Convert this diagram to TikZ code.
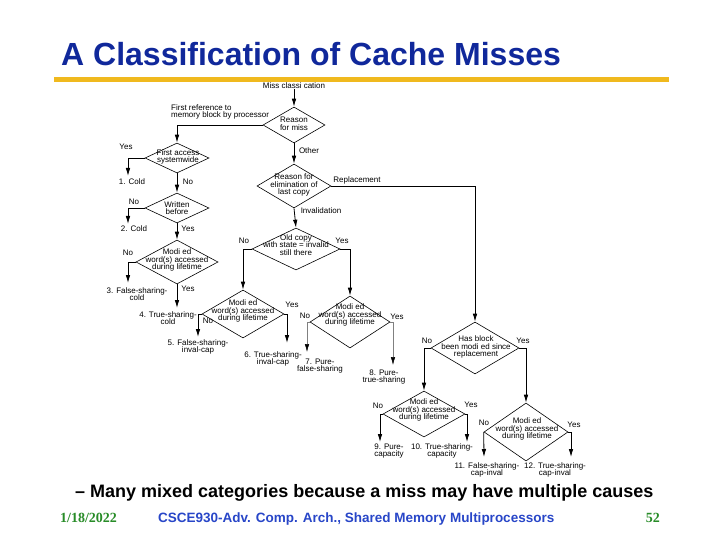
\documentclass[tikz,border=0pt]{standalone}
\usepackage{fontspec}
\setmainfont{Liberation Sans}
\newfontfamily\serifb{Liberation Serif}
\usetikzlibrary{shapes.geometric,arrows.meta}
\definecolor{titleblue}{RGB}{16,40,155}
\definecolor{rulegold}{RGB}{240,185,30}
\definecolor{footgreen}{RGB}{40,140,40}
\definecolor{footblue}{RGB}{40,70,200}
\begin{document}
\begin{tikzpicture}[x=1pt,y=-1pt,
  dia/.style={diamond, draw, line width=0.6pt, inner sep=0pt},
  txt/.style={font=\fontsize{8}{7.5}\selectfont, align=center, inner sep=0pt},
  arr/.style={line width=0.8pt, -{Latex[length=8pt,width=4.5pt]}},
  garr/.style={line width=0.5pt, draw=gray, -{Latex[length=8pt,width=4.5pt,black]}}]
\useasboundingbox[fill=white] (0,0) rectangle (720,540);

% header
\node[anchor=base west, inner sep=0pt, text=titleblue, font=\fontsize{32}{36}\selectfont\bfseries] (title) at (61,66) {A Classification of Cache Misses};
\draw[rulegold, line width=5pt] (54,80) -- (669,80);

% diamonds
\node[dia, minimum width=62pt, minimum height=36pt] (d1) at (294,125) {};
\node[dia, minimum width=64pt, minimum height=30pt] (d2) at (177,158) {};
\node[dia, minimum width=64pt, minimum height=30pt] (d3) at (177,208) {};
\node[dia, minimum width=82pt, minimum height=44pt] (d4) at (177,262) {};
\node[dia, minimum width=74pt, minimum height=44pt] (d11) at (294,186) {};
\node[dia, minimum width=88pt, minimum height=42pt] (d6) at (296,249) {};
\node[dia, minimum width=82pt, minimum height=48pt] (d5) at (243,314) {};
\node[dia, minimum width=80pt, minimum height=52pt] (d7) at (350,322) {};
\node[dia, minimum width=88pt, minimum height=52pt] (d8) at (475,348) {};
\node[dia, minimum width=82pt, minimum height=46pt] (d9) at (424,414) {};
\node[dia, minimum width=84pt, minimum height=58pt] (d10) at (526,432) {};

% diamond texts
\node[txt] (t1) at (294,124) {Reason\\for miss};
\node[txt] (t2) at (178,157) {First access\\systemwide};
\node[txt] (t3) at (177,208) {Written\\before};
\node[txt] (t4) at (177,260) {Modi ed\\word(s) accessed\\during lifetime};
\node[txt] (t11) at (294,185) {Reason for\\elimination of\\last copy};
\node[txt] (t6) at (296,245) {Old copy\\with state = invalid\\still there};
\node[txt] (t5) at (243,311) {Modi ed\\word(s) accessed\\during lifetime};
\node[txt] (t7) at (350,315) {Modi ed\\word(s) accessed\\during lifetime};
\node[txt] (t8) at (476,347) {Has block\\been modi ed since\\replacement};
\node[txt] (t9) at (424,410) {Modi ed\\word(s) accessed\\during lifetime};
\node[txt] (t10) at (527,429) {Modi ed\\word(s) accessed\\during lifetime};

% top
\node[txt] (top) at (294,86) {Miss classi cation};
\draw[arr] (top.south) -- (d1.north);
\node[txt, anchor=west, align=left] (lfirst) at (171,112) {First reference to\\memory block by processor};
\draw[arr] (d1.west) -| (d2.north);
\draw[arr] (d1.south) -- (d11.north);
\node[txt] (lother) at (309,151) {Other};
\draw[arr] (d11.south) -- (d6.north);
\node[txt] (linval) at (321,211) {Invalidation};
\draw[arr] (d11.east) -| (d8.north);
\node[txt] (lrepl) at (357,180) {Replacement};

% left column
\node[txt] (y2) at (126,147) {Yes};
\coordinate (c1) at (128,176);
\draw[arr] (d2.west) -| (c1);
\node[txt] (l1) at (132,182) {1. Cold};
\node[txt] (n2) at (188,182) {No};
\draw[arr] (d2.south) -- (d3.north);
\node[txt] (n3) at (134,202) {No};
\coordinate (c2) at (128,224);
\draw[arr] (d3.west) -| (c2);
\node[txt] (l2) at (134,229) {2. Cold};
\node[txt] (y3) at (188,229) {Yes};
\draw[arr] (d3.south) -- (d4.north);
\node[txt] (n4) at (128,253) {No};
\coordinate (c3) at (128,283);
\draw[arr] (d4.west) -| (c3);
\node[txt] (l3) at (137,294) {3. False-sharing-\\cold};
\node[txt] (y4) at (188,289) {Yes};
\coordinate (c4) at (177,308);
\draw[arr] (d4.south) -- (c4);
\node[txt] (l4) at (168,318) {4. True-sharing-\\cold};

% D6 branches
\node[txt] (n6) at (244,241) {No};
\draw[arr] (d6.west) -| (d5.north);
\node[txt] (y6) at (342,241) {Yes};
\draw[arr] (d6.east) -| (d7.north);

% D5 branches
\node[txt] (n5) at (208,321) {No};
\coordinate (c5) at (198,337);
\draw[arr] (d5.west) -| (c5);
\node[txt] (l5) at (198,347) {5. False-sharing-\\inval-cap};
\node[txt] (y5) at (292,305) {Yes};
\coordinate (c6) at (287,343);
\draw[arr] (d5.east) -| (c6);
\node[txt] (l6) at (273,359) {6. True-sharing-\\inval-cap};

% D7 branches
\node[txt] (n7) at (305,316) {No};
\coordinate (c7) at (307,352);
\draw[garr] (d7.west) -| (c7);
\node[txt] (l7) at (320,366) {7. Pure-\\false-sharing};
\node[txt] (y7) at (397,317) {Yes};
\coordinate (c8) at (393,365);
\draw[garr] (d7.east) -| (c8);
\node[txt] (l8) at (384,377) {8. Pure-\\true-sharing};

% D8 branches
\node[txt] (n8) at (427,341) {No};
\draw[arr] (d8.west) -| (d9.north);
\node[txt] (y8) at (523,341) {Yes};
\draw[arr] (d8.east) -| (d10.north);

% D9 branches
\node[txt] (n9) at (378,406) {No};
\coordinate (c9) at (380,442);
\draw[arr] (d9.west) -| (c9);
\node[txt] (l9) at (389,451) {9. Pure-\\capacity};
\node[txt] (y9) at (471,405) {Yes};
\coordinate (c10) at (467,442);
\draw[arr] (d9.east) -| (c10);
\node[txt] (l10) at (442,451) {10. True-sharing-\\capacity};

% D10 branches
\node[txt] (n10) at (484,423) {No};
\coordinate (c11) at (484,457);
\draw[arr] (d10.west) -- (c11);
\node[txt] (l11) at (487,470) {11. False-sharing-\\cap-inval};
\node[txt] (y10) at (574,425) {Yes};
\coordinate (c12) at (571,457);
\draw[arr] (d10.east) -| (c12);
\node[txt] (l12) at (555,470) {12. True-sharing-\\cap-inval};

% bottom text
\node[anchor=base west, inner sep=0pt, font=\fontsize{18}{20}\selectfont\bfseries] (sub) at (75,497) {– Many mixed categories because a miss may have multiple causes};
\node[anchor=base west, inner sep=0pt, text=footgreen, font=\serifb\bfseries\fontsize{14}{16}\selectfont] (date) at (60,522) {1/18/2022};
\node[anchor=base west, inner sep=0pt, text=footblue, font=\fontsize{13.5}{16}\selectfont\bfseries] (course) at (158,522) {CSCE930-Adv. Comp. Arch., Shared Memory Multiprocessors};
\node[anchor=base east, inner sep=0pt, text=footgreen, font=\serifb\bfseries\fontsize{14}{16}\selectfont] (page) at (660,522) {52};
\end{tikzpicture}
\end{document}
